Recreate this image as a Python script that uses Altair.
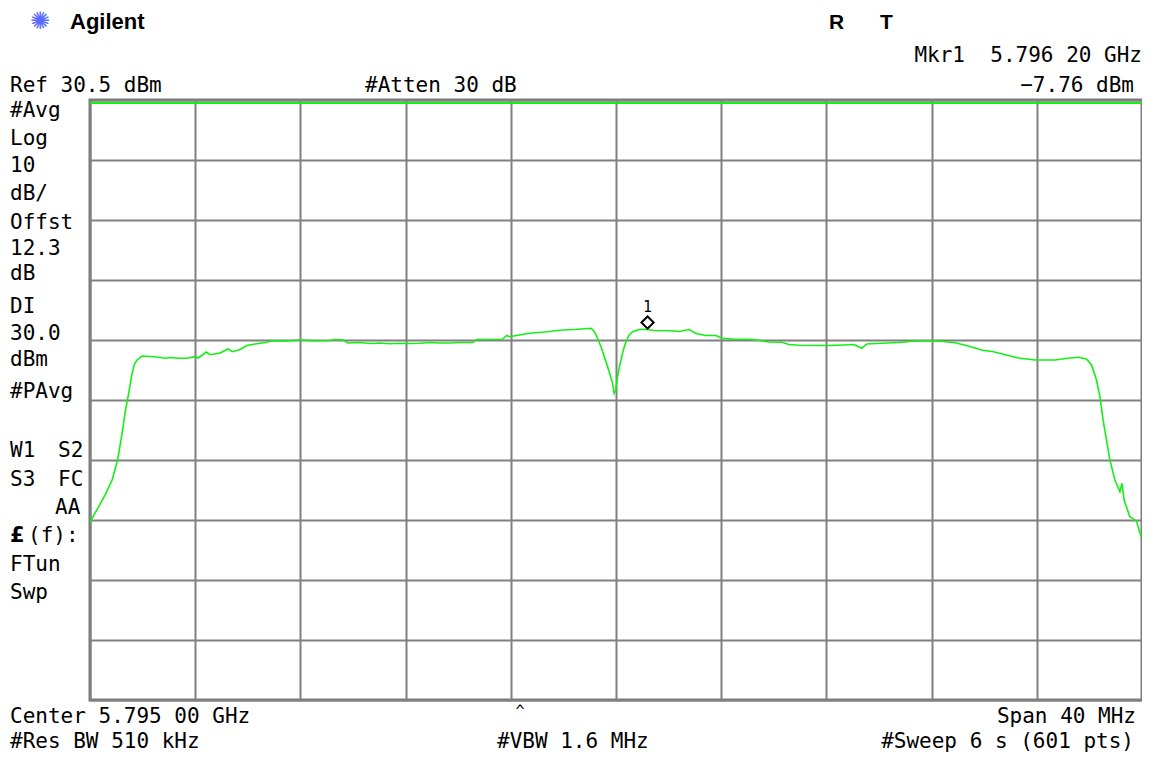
import altair as alt
import pandas as pd

freq_mhz = [
    5775.00, 5775.13, 5775.33, 5775.59, 5775.84, 5776.05, 5776.22, 5776.35, 5776.47, 5776.60,
    5776.69, 5776.79, 5776.98, 5777.29, 5777.56, 5777.86, 5778.05, 5778.36, 5778.69, 5779.00,
    5779.12, 5779.42, 5779.57, 5779.95, 5780.25, 5780.41, 5780.71, 5780.96, 5781.28, 5781.66,
    5781.96, 5782.42, 5782.98, 5783.55, 5784.12, 5784.31, 5784.62, 5784.81, 5785.26, 5785.64,
    5786.02, 5786.40, 5786.78, 5787.16, 5787.54, 5787.92, 5788.30, 5788.68, 5789.05, 5789.55,
    5789.70, 5790.19, 5790.69, 5790.84, 5790.95, 5791.33, 5791.71, 5792.28, 5792.96, 5793.42,
    5794.05, 5794.18, 5794.29, 5794.43, 5794.56, 5794.68, 5794.78, 5794.87, 5794.93, 5794.99,
    5795.06, 5795.12, 5795.19, 5795.28, 5795.38, 5795.50, 5795.63, 5795.88, 5796.14, 5796.45,
    5796.90, 5797.21, 5797.40, 5797.78, 5798.04, 5798.41, 5798.80, 5799.03, 5799.49, 5800.06,
    5800.43, 5800.81, 5801.31, 5801.57, 5801.95, 5802.52, 5803.09, 5803.66, 5804.04, 5804.34,
    5804.53, 5805.11, 5805.74, 5806.38, 5807.01, 5807.45, 5807.90, 5808.40, 5808.90, 5809.35,
    5809.92, 5810.30, 5810.93, 5811.25, 5811.69, 5812.19, 5812.57, 5812.89, 5813.08, 5813.27,
    5813.40, 5813.52, 5813.65, 5813.78, 5813.97, 5814.16, 5814.24, 5814.32, 5814.53, 5814.79,
    5814.97,
]
level_dbm = [
    -40.00, -38.83, -37.28, -35.17, -32.83, -29.50, -25.05, -21.17, -18.38, -15.05,
    -13.50, -12.83, -12.17, -12.25, -12.33, -12.55, -12.42, -12.55, -12.55, -12.28,
    -12.50, -11.50, -11.95, -11.67, -11.00, -11.45, -11.08, -10.42, -10.17, -9.92,
    -9.62, -9.67, -9.50, -9.62, -9.58, -9.42, -9.50, -10.00, -9.92, -10.08,
    -10.00, -10.12, -10.05, -10.08, -10.05, -9.92, -10.00, -10.00, -9.92, -9.92,
    -9.42, -9.42, -9.38, -8.75, -8.95, -8.67, -8.38, -8.17, -7.83, -7.75,
    -7.55, -8.12, -9.17, -10.62, -12.33, -13.95, -15.33, -16.72, -18.38, -17.83,
    -15.62, -14.17, -12.83, -11.17, -9.78, -8.67, -8.12, -7.75, -7.72, -7.92,
    -7.95, -8.00, -8.08, -7.75, -8.42, -8.75, -8.75, -9.22, -9.38, -9.38,
    -9.55, -9.83, -9.88, -10.25, -10.38, -10.42, -10.42, -10.33, -10.25, -10.88,
    -10.17, -10.05, -9.92, -9.67, -9.62, -9.75, -9.95, -10.50, -11.17, -11.45,
    -12.08, -12.50, -12.83, -12.83, -12.83, -12.55, -12.38, -12.67, -13.67, -16.17,
    -18.95, -22.83, -26.17, -29.50, -32.83, -34.78, -33.38, -36.17, -38.88, -39.72,
    -42.28,
]

x_grid_mhz = [5775, 5779, 5783, 5787, 5791, 5795, 5799, 5803, 5807, 5811, 5815]
y_grid_dbm = [30.5, 20.5, 10.5, 0.5, -9.5, -19.5, -29.5, -39.5, -49.5, -59.5, -69.5]
display_line_dbm = [30.0]
marker_freq_mhz = [5796.20]
marker_dbm = [-7.76]
marker_label = ["1"]

NB = "\u00a0"
header_texts = ["Agilent", "R", "T", "Mkr1" + NB + NB + "5.796 20 GHz", "\u22127.76 dBm",
                "Ref 30.5 dBm", "#Atten 30 dB"]
side_texts = ["#Avg", "Log", "10", "dB/", "Offst", "12.3", "dB", "DI", "30.0", "dBm",
              "#PAvg", "W1", "S2", "S3", "FC", "AA", "(f):", "FTun", "Swp"]
footer_texts = ["Center 5.795 00 GHz", "#Res BW 510 kHz", "#VBW 1.6 MHz",
                "Span 40 MHz", "#Sweep 6 s (601 pts)"]

# ---------------- chart ----------------
PX0, PY0 = 90, 100          # page position of the plot area's origin
W, H = 1052, 600
GREEN = "#14f014"
GRID = "#808080"
MONO = "DejaVu Sans Mono"

xs = alt.Scale(domain=[5775, 5815], nice=False, zero=False)
ys = alt.Scale(domain=[-69.5, 30.5], nice=False, zero=False)

xax = alt.Axis(values=x_grid_mhz, labels=False, ticks=False, domain=False, title=None,
               grid=True, gridColor=GRID, gridWidth=2, gridOpacity=1)
yax = alt.Axis(values=y_grid_dbm, labels=False, ticks=False, domain=False, title=None,
               grid=True, gridColor=GRID, gridWidth=2, gridOpacity=1)

trace_df = pd.DataFrame({"freq": freq_mhz, "dbm": level_dbm})

trace = alt.Chart(trace_df).mark_line(color=GREEN, strokeWidth=1.6, clip=True).encode(
    x=alt.X("freq:Q", scale=xs, axis=xax),
    y=alt.Y("dbm:Q", scale=ys, axis=yax),
)

dl = alt.Chart(pd.DataFrame({"dbm": display_line_dbm})).mark_rule(
    color=GREEN, strokeWidth=2).encode(y=alt.Y("dbm:Q", scale=ys, axis=yax))

mk_df = pd.DataFrame({"freq": marker_freq_mhz, "dbm": marker_dbm, "lab": marker_label})
marker = alt.Chart(mk_df).mark_point(
    shape="diamond", size=150, filled=True, fill="white", stroke="black",
    strokeWidth=2, opacity=1, yOffset=-7).encode(
    x=alt.X("freq:Q", scale=xs, axis=xax), y=alt.Y("dbm:Q", scale=ys, axis=yax))
marker_txt = alt.Chart(mk_df).mark_text(
    font=MONO, fontSize=15, color="black", dy=-23, baseline="middle").encode(
    x=alt.X("freq:Q", scale=xs, axis=xax), y=alt.Y("dbm:Q", scale=ys, axis=yax),
    text="lab:N")

dummy = pd.DataFrame({"k": [0]})


def label(txt, px, py, align="left", size=21, font=MONO, weight="normal",
          color="black", baseline="alphabetic"):
    return alt.Chart(dummy).mark_text(
        text=txt, align=align, baseline=baseline, font=font, fontSize=size,
        fontWeight=weight, color=color).encode(
        x=alt.value(px - PX0), y=alt.value(py - PY0))


labels = [
    label("\u273a", 40, 22, align="center", size=24, font="DejaVu Sans",
          color="#5a6bff", baseline="middle"),
    label(header_texts[0], 70, 29, size=22, font="Liberation Sans", weight="bold"),
    label(header_texts[1], 829, 29, size=21, font="Liberation Sans", weight="bold"),
    label(header_texts[2], 880, 29, size=21, font="Liberation Sans", weight="bold"),
    label(header_texts[3], 1142, 62, align="right"),
    label(header_texts[4], 1134, 92, align="right"),
    label(header_texts[5], 10, 92),
    label(header_texts[6], 365, 92),
]
side_pos = [(10, 117), (10, 145), (10, 172), (10, 200), (10, 229), (10, 255), (10, 280),
            (10, 313), (10, 340), (10, 366), (10, 398), (10, 457), (58, 457),
            (10, 486), (58, 486), (55, 514), (28, 542), (10, 571), (10, 599)]
for t, (px, py) in zip(side_texts, side_pos):
    labels.append(label(t, px, py))
labels.append(label("\u00a3", 10, 542, font="DejaVu Sans", weight="bold"))

labels += [
    label(footer_texts[0], 10, 723),
    label(footer_texts[1], 10, 748),
    label(footer_texts[2], 497, 748),
    label(footer_texts[3], 1136, 723, align="right"),
    label(footer_texts[4], 1134, 748, align="right"),
    label("^", 520, 716, align="center", size=15),
]

chart = alt.layer(trace, dl, marker, marker_txt, *labels).properties(
    width=W, height=H,
    padding={"left": PX0 - 8, "top": PY0 - 8, "right": 0, "bottom": 52},
    autosize=alt.AutoSizeParams(type="none"),
    background="white",
).configure_view(stroke="#7a7a7a", strokeWidth=3)

chart.save("out.html", embed_options={"renderer": "svg", "actions": False})
